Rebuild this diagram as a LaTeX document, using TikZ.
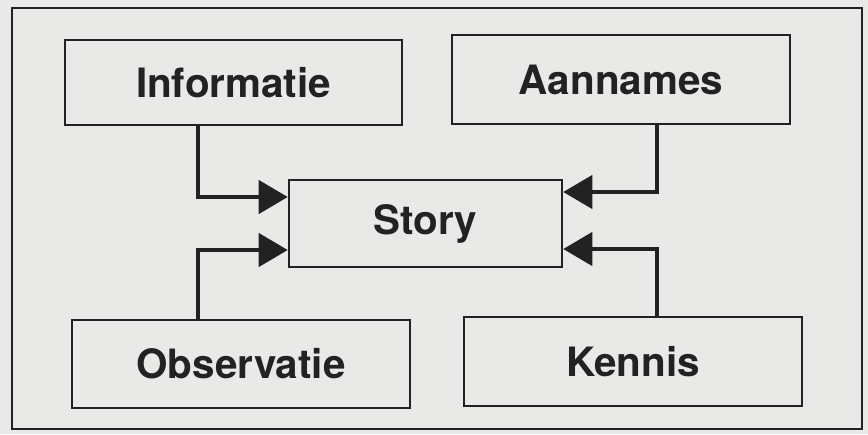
\documentclass[tikz,border=0pt]{standalone}
\usepackage{fontspec}
\setmainfont{TeX Gyre Heros}
\usetikzlibrary{arrows.meta}
\definecolor{paper}{HTML}{E9E9E7}
\definecolor{ink}{HTML}{222222}

\begin{document}
\begin{tikzpicture}[x=0.03cm, y=-0.03cm,
  box/.style={draw=ink, line width=2.2pt, text=ink, font=\fontsize{34.5}{38}\selectfont\bfseries, inner sep=0pt},
  flow/.style={draw=ink, line width=2.8pt, -{Triangle[length=0.87cm, width=1cm]}}]
\fill[paper] (0,0) rectangle (868,434);
\useasboundingbox (0,0) rectangle (868,434);
\draw[ink, line width=1.8pt] (12,8) rectangle (862,429);

\node[box, minimum width=10.11cm, minimum height=2.55cm] (info) at (233.5,82.5) {Informatie};
\node[box, minimum width=10.14cm, minimum height=2.67cm] (aann) at (621,79.5) {Aannames};
\node[box, minimum width=8.19cm, minimum height=2.61cm] (story) at (425.5,223.5) {Story};
\node[box, minimum width=10.14cm, minimum height=2.64cm] (obs) at (241,364) {Observatie};
\node[box, minimum width=10.14cm, minimum height=2.67cm] (kennis) at (633,361.5) {Kennis};

\draw[flow] ([xshift=-1.065cm]info.south) |- ([yshift=0.795cm]story.west);
\draw[flow] ([xshift=1.08cm]aann.south) |- ([yshift=0.945cm]story.east);
\draw[flow] ([xshift=-1.29cm]obs.north) |- ([yshift=-0.795cm]story.west);
\draw[flow] ([xshift=0.72cm]kennis.north) |- ([yshift=-0.765cm]story.east);
\end{tikzpicture}
\end{document}
